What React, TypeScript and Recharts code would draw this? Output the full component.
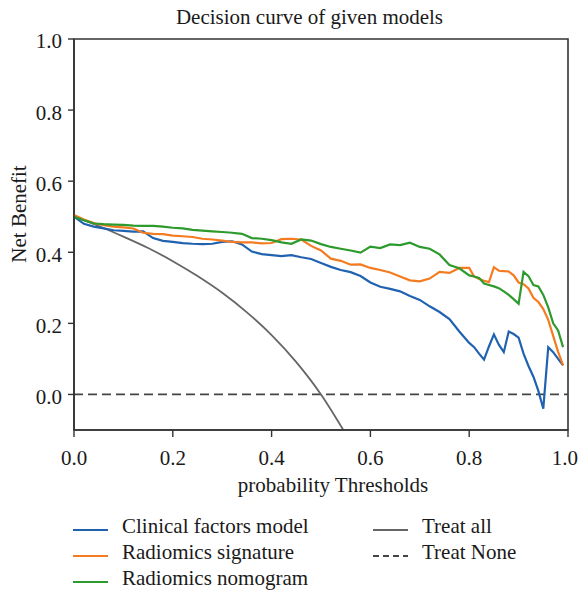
import React from 'react';
import { LineChart, Line, XAxis, YAxis, ReferenceLine, ReferenceArea } from 'recharts';

const FONT = '"Liberation Serif", "DejaVu Serif", serif';

const thresholds = [
  0, 0.02, 0.04, 0.06, 0.08, 0.1, 0.12, 0.14, 0.16, 0.18,
  0.2, 0.22, 0.24, 0.26, 0.28, 0.3, 0.32, 0.34, 0.36, 0.38,
  0.4, 0.42, 0.44, 0.46, 0.48, 0.5, 0.52, 0.54, 0.56, 0.58,
  0.6, 0.62, 0.64, 0.66, 0.68, 0.7, 0.72, 0.74, 0.76, 0.78,
  0.8, 0.81, 0.82, 0.83, 0.84, 0.85, 0.86, 0.87, 0.88, 0.89,
  0.9, 0.91, 0.92, 0.93, 0.94, 0.95, 0.96, 0.97, 0.98, 0.99,
];

const clinicalModel = [
  0.5, 0.48, 0.472, 0.467, 0.462, 0.46, 0.458, 0.459, 0.44, 0.432,
  0.429, 0.426, 0.424, 0.423, 0.424, 0.429, 0.431, 0.422, 0.402, 0.395,
  0.392, 0.389, 0.392, 0.386, 0.381, 0.37, 0.359, 0.35, 0.344, 0.333,
  0.315, 0.303, 0.297, 0.29, 0.277, 0.266, 0.248, 0.232, 0.212, 0.177,
  0.145, 0.133, 0.115, 0.098, 0.135, 0.169, 0.14, 0.119, 0.177, 0.17,
  0.16, 0.115, 0.08, 0.05, 0.01, -0.04, 0.133, 0.119, 0.1, 0.082,
];

const radiomicsSignature = [
  0.505, 0.492, 0.482, 0.476, 0.472, 0.47, 0.467, 0.455, 0.452, 0.451,
  0.447, 0.445, 0.443, 0.438, 0.436, 0.433, 0.429, 0.428, 0.428, 0.425,
  0.426, 0.437, 0.438, 0.436, 0.418, 0.405, 0.382, 0.376, 0.365, 0.366,
  0.356, 0.35, 0.343, 0.332, 0.321, 0.318, 0.326, 0.345, 0.342, 0.356,
  0.356, 0.332, 0.325, 0.32, 0.316, 0.358, 0.348, 0.347, 0.346, 0.335,
  0.315, 0.31, 0.298, 0.272, 0.26, 0.24, 0.21, 0.165, 0.12, 0.082,
];

const radiomicsNomogram = [
  0.5, 0.49, 0.481, 0.479, 0.478, 0.477, 0.475, 0.474, 0.474, 0.472,
  0.469, 0.467, 0.463, 0.461, 0.459, 0.457, 0.455, 0.452, 0.44, 0.438,
  0.434, 0.428, 0.424, 0.436, 0.433, 0.423, 0.415, 0.41, 0.405, 0.399,
  0.416, 0.412, 0.422, 0.42, 0.427, 0.415, 0.41, 0.394, 0.364, 0.355,
  0.335, 0.332, 0.328, 0.312, 0.308, 0.304, 0.299, 0.29, 0.28, 0.268,
  0.255, 0.345, 0.333, 0.308, 0.304, 0.28, 0.245, 0.2, 0.18, 0.133,
];

const treatAllThresholds = [0, 0.05, 0.1, 0.15, 0.2, 0.25, 0.3, 0.35, 0.4, 0.45, 0.5, 0.55];
const treatAllValues = [0.5, 0.474, 0.444, 0.412, 0.375, 0.333, 0.286, 0.231, 0.167, 0.091, 0.0, -0.111];

const xTicks = [0, 0.2, 0.4, 0.6, 0.8, 1.0];
const yTicks = [0, 0.2, 0.4, 0.6, 0.8, 1.0];

const COLORS = {
  clinical: '#2062b0',
  signature: '#f47b20',
  nomogram: '#2c9a2c',
  treatAll: '#666666',
  treatNone: '#444444',
  axis: '#333333',
  text: '#1a1a1a',
};

const data = thresholds.map((t, i) => ({
  t,
  clinical: clinicalModel[i],
  signature: radiomicsSignature[i],
  nomogram: radiomicsNomogram[i],
}));

const treatAllData = treatAllThresholds.map((t, i) => ({ t, v: treatAllValues[i] }));

const legendLeft = [
  { label: 'Clinical factors model', color: COLORS.clinical, dash: undefined },
  { label: 'Radiomics signature', color: COLORS.signature, dash: undefined },
  { label: 'Radiomics nomogram', color: COLORS.nomogram, dash: undefined },
];
const legendRight = [
  { label: 'Treat all', color: COLORS.treatAll, dash: undefined },
  { label: 'Treat None', color: COLORS.treatNone, dash: '6 4' },
];

function LegendItem({ item, lineX, textX, baseline }: any) {
  return (
    <>
      <svg style={{ position: 'absolute', left: lineX, top: baseline - 8, overflow: 'visible' }} width={36} height={8}>
        <line x1={0} y1={4} x2={35} y2={4} stroke={item.color} strokeWidth={1.8} strokeDasharray={item.dash} />
      </svg>
      <div
        style={{
          position: 'absolute',
          left: textX,
          top: baseline - 17.6,
          fontSize: 21,
          lineHeight: '21px',
          whiteSpace: 'nowrap',
          color: COLORS.text,
        }}
      >
        {item.label}
      </div>
    </>
  );
}

function XTick(props: any) {
  const { x, y, payload } = props;
  const last = payload.value >= 1;
  return (
    <text
      x={last ? x + 10 : x}
      y={y}
      dy="0.71em"
      textAnchor={last ? 'end' : 'middle'}
      fontSize={21}
      fill={COLORS.text}
      fontFamily={FONT}
    >
      {Number(payload.value).toFixed(1)}
    </text>
  );
}

export default function App() {
  const baselines = [534, 560, 586];
  return (
    <div style={{ position: 'absolute', left: 0, top: 0, width: 579, height: 592, fontFamily: FONT, background: '#fff' }}>
      <div
        style={{
          position: 'absolute',
          left: 0,
          width: 619,
          top: 7.4,
          textAlign: 'center',
          fontSize: 21,
          lineHeight: '21px',
          color: COLORS.text,
          whiteSpace: 'nowrap',
        }}
      >
        Decision curve of given models
      </div>
      <LineChart
        width={579}
        height={592}
        data={data}
        margin={{ top: 39, right: 11, left: 0, bottom: 102 }}
        style={{ fontFamily: FONT }}
      >
        <XAxis
          dataKey="t"
          type="number"
          domain={[0, 1]}
          ticks={xTicks}
          tickSize={7}
          tickMargin={13}
          height={60}
          axisLine={{ stroke: COLORS.axis, strokeWidth: 1.6 }}
          tickLine={{ stroke: COLORS.axis, strokeWidth: 1.4 }}
          tick={XTick}
          interval={0}
          label={(p: any) => {
            const vb = p.viewBox || {};
            const cx = (vb.x ?? 74) + (vb.width ?? 494) / 2 + 12;
            return (
              <text x={cx} y={492} textAnchor="middle" fontSize={21} fill={COLORS.text} fontFamily={FONT}>
                probability Thresholds
              </text>
            );
          }}
        />
        <YAxis
          type="number"
          domain={[-0.1, 1]}
          allowDataOverflow
          ticks={yTicks}
          tickFormatter={(v: number) => v.toFixed(1)}
          width={74}
          tickSize={6}
          tickMargin={6}
          axisLine={{ stroke: COLORS.axis, strokeWidth: 1.6 }}
          tickLine={{ stroke: COLORS.axis, strokeWidth: 1.4 }}
          tick={{ fill: COLORS.text, fontSize: 21, fontFamily: FONT, dy: 2 }}
          interval={0}
          label={() => (
            <text
              x={26}
              y={214}
              transform="rotate(-90 26 214)"
              textAnchor="middle"
              fontSize={21}
              fill={COLORS.text}
              fontFamily={FONT}
            >
              Net Benefit
            </text>
          )}
        />
        <ReferenceArea x1={0} x2={1} y1={-0.1} y2={1} fill="none" fillOpacity={0} stroke={COLORS.axis} strokeWidth={1.6} />
        <ReferenceLine y={0} stroke={COLORS.treatNone} strokeWidth={1.8} strokeDasharray="9 5" />
        <Line
          data={treatAllData}
          dataKey="v"
          type="monotone"
          stroke={COLORS.treatAll}
          strokeWidth={1.8}
          dot={false}
          isAnimationActive={false}
          name="Treat all"
        />
        <Line dataKey="clinical" type="linear" stroke={COLORS.clinical} strokeWidth={2.2} dot={false} isAnimationActive={false} name="Clinical factors model" />
        <Line dataKey="signature" type="linear" stroke={COLORS.signature} strokeWidth={2.2} dot={false} isAnimationActive={false} name="Radiomics signature" />
        <Line dataKey="nomogram" type="linear" stroke={COLORS.nomogram} strokeWidth={2.2} dot={false} isAnimationActive={false} name="Radiomics nomogram" />
      </LineChart>
      {legendLeft.map((item, i) => (
        <LegendItem key={item.label} item={item} lineX={73} textX={122} baseline={baselines[i]} />
      ))}
      {legendRight.map((item, i) => (
        <LegendItem key={item.label} item={item} lineX={373} textX={422} baseline={baselines[i]} />
      ))}
    </div>
  );
}
